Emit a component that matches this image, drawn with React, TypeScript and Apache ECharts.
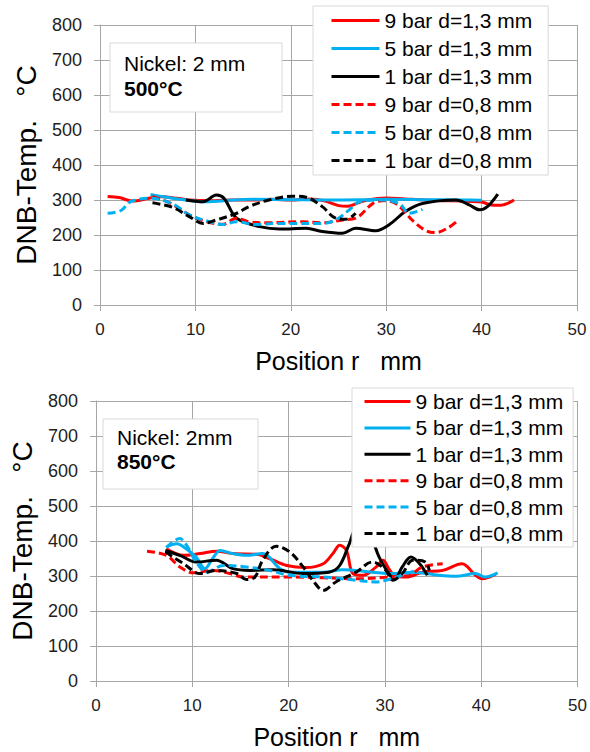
import React, { useEffect, useRef } from "react";
import * as echarts from "echarts";

// ---- data (x = position r in mm, y = DNB temperature in °C) ----
const seriesNames = [
  "9 bar d=1,3 mm",
  "5 bar d=1,3 mm",
  "1 bar d=1,3 mm",
  "9 bar d=0,8 mm",
  "5 bar d=0,8 mm",
  "1 bar d=0,8 mm",
];
const xTicks = [0, 10, 20, 30, 40, 50];
const yTicks = [0, 100, 200, 300, 400, 500, 600, 700, 800];

// 500°C
const t500_9bar_13 = [[0.8,310],[2,307],[3.4,297],[5,304],[6,310],[8,305],[10,299],[12,298],[14,300],[16,300],[18,302],[20,300],[22,303],[23.5,298],[25,284],[26,282],[27,291],[28,300],[30,306],[32,303],[34,300],[36,298],[38,297],[40,294],[41,286],[42,285],[43.4,300]];
const t500_5bar_13 = [[5.3,316],[7,308],[9,300],[10.8,295],[13,298],[16,302],[20,301],[24,300],[28,301],[30,302],[34,301],[38,300],[40,299]];
const t500_1bar_13 = [[9,300],[10.8,295],[12.2,314],[13,305],[13.9,262],[14.6,243],[16.7,224],[18.8,217],[21.6,219],[23.3,210],[25.4,205],[26.8,219],[28.9,212],[30.3,229],[32,267],[33.8,290],[37.3,300],[38.7,286],[39.8,272],[40.6,281],[41.7,317]];
const t500_9bar_08 = [[5.5,310],[7.3,292],[9.4,257],[11.1,238],[12.9,231],[14.3,248],[15.6,238],[17.7,235],[21.2,238],[23.3,235],[25.4,243],[26.8,248],[28.6,290],[29.6,298],[31,290],[32.9,238],[34.2,212],[35.2,207],[36.4,219],[37.5,241]];
const t500_5bar_08 = [[0.8,262],[2.2,270],[3.2,295],[5.2,305],[7.6,289],[9.4,257],[11.5,238],[12.9,230],[14.3,238],[16.3,230],[18.4,233],[23.3,233],[24.7,243],[26.1,271],[27.2,295],[29.6,300],[31.4,289],[32.4,262],[33.8,273]];
const t500_1bar_08 = [[5.5,292],[7.6,279],[9.4,252],[10.8,233],[12.2,243],[14.3,262],[15.6,281],[17.7,300],[20.2,311],[21.6,308],[23.3,281],[24.7,248],[25.8,245],[26.8,262]];

// 850°C
const t850_9bar_13 = [[7.3,378],[9.1,359],[10.8,364],[12.5,371],[14.2,364],[16.7,362],[18,350],[19.8,330],[21.8,324],[23.6,335],[24.6,364],[25.3,388],[26,373],[26.7,306],[27.7,302],[29.1,326],[29.8,345],[30.4,321],[31.1,299],[32.2,297],[33.9,311],[36,316],[38,335],[39.4,302],[40.1,292],[41.5,305]];
const t850_5bar_13 = [[7.3,383],[8.4,392],[9.1,383],[10.4,354],[11.3,321],[12.2,354],[12.9,373],[14.2,364],[15.6,359],[17.3,364],[19.1,321],[20.1,311],[23.6,311],[25.6,318],[28.7,311],[31.1,307],[32.9,311],[35.6,302],[37.4,299],[39.4,307],[40.4,297],[41.7,309]];
const t850_1bar_13 = [[7.2,373],[8.7,359],[10.4,340],[12.5,345],[14.2,321],[16,316],[18.4,318],[21.5,307],[24.2,311],[25.3,330],[26.3,392],[27,430],[28.4,416],[29.4,354],[30.4,307],[31,292],[31.8,326],[32.7,354],[33.6,335],[34.4,302]];
const t850_9bar_08 = [[5.3,371],[7.3,359],[8.7,326],[10.1,309],[12.2,316],[13.9,307],[15.3,297],[20.1,297],[23.6,295],[27,292],[30.4,297],[32.5,302],[33.9,326],[36,335]];
const t850_5bar_08 = [[7.3,381],[8.7,407],[9.4,388],[10.4,340],[11.5,311],[13.2,330],[15.6,326],[18,316],[20.1,302],[23.6,297],[27,288],[29.1,283],[30.1,288],[31.8,302],[33.2,316]];
const t850_1bar_08 = [[7.2,369],[9.1,335],[10.8,307],[12.5,316],[14.6,307],[15.6,290],[16.5,297],[17.3,345],[18.7,385],[20.1,369],[21.5,326],[22.5,288],[23.6,259],[24.9,283],[27,311],[28.7,340],[30.1,316],[30.8,288],[31.8,307],[32.9,345],[34.2,340],[34.6,316]];

const colors = ["#ff0000", "#00b0f0", "#000000", "#ff0000", "#00b0f0", "#000000"];
const panels = [
  { data: [t500_9bar_13, t500_5bar_13, t500_1bar_13, t500_9bar_08, t500_5bar_08, t500_1bar_08], line1: "Nickel: 2 mm", line2: "500°C" },
  { data: [t850_9bar_13, t850_5bar_13, t850_1bar_13, t850_9bar_08, t850_5bar_08, t850_1bar_08], line1: "Nickel: 2mm", line2: "850°C" },
];

const FONT = "'Liberation Sans', Arial, sans-serif";
const GRID_COLOR = "#a6a6a6";
const TEXT_COLOR = "#1e1e1e";

export default function App() {
  const ref = useRef<HTMLDivElement>(null);
  useEffect(() => {
    if (!ref.current) return;
    const chart = echarts.init(ref.current, undefined, { renderer: "svg" });
    const grids = [
      { left: 100, top: 25, width: 477, height: 280 },
      { left: 95, top: 401, width: 483, height: 280 },
    ];
    const xAxes = grids.map((_, i) => ({
      type: "value",
      gridIndex: i,
      min: xTicks[0],
      max: xTicks[xTicks.length - 1],
      interval: 10,
      name: "Position r   mm",
      nameLocation: "middle",
      nameGap: 43,
      nameTextStyle: { fontSize: 25, fontFamily: FONT, color: "#000" },
      axisLine: { show: true, lineStyle: { color: GRID_COLOR, width: 1 } },
      axisTick: { show: true, inside: false, length: 6, lineStyle: { color: GRID_COLOR } },
      axisLabel: { fontSize: 17, fontFamily: FONT, color: TEXT_COLOR, margin: 16 },
      splitLine: { show: true, lineStyle: { color: GRID_COLOR, width: 1 } },
    }));
    const yAxes = grids.map((_, i) => ({
      type: "value",
      gridIndex: i,
      min: yTicks[0],
      max: yTicks[yTicks.length - 1],
      interval: 100,
      name: "DNB-Temp.   °C",
      nameLocation: "middle",
      nameGap: 60,
      nameTextStyle: { fontSize: 28, fontFamily: FONT, color: "#000" },
      axisLine: { show: true, lineStyle: { color: GRID_COLOR, width: 1 } },
      axisTick: { show: true, inside: false, length: 6, lineStyle: { color: GRID_COLOR } },
      axisLabel: { fontSize: 18, fontFamily: FONT, color: TEXT_COLOR, margin: 18 },
      splitLine: { show: true, lineStyle: { color: GRID_COLOR, width: 1 } },
    }));
    const series: any[] = [];
    panels.forEach((p, gi) => {
      p.data.forEach((d, si) => {
        series.push({
          type: "line",
          name: seriesNames[si],
          xAxisIndex: gi,
          yAxisIndex: gi,
          data: d,
          smooth: 0.35,
          symbol: "none",
          showSymbol: false,
          z: 3,
          lineStyle: { color: colors[si], width: 3, type: si >= 3 ? [8, 4] : "solid" },
          itemStyle: { color: colors[si] },
        });
      });
    });
    const legendCommon = {
      orient: "vertical",
      data: seriesNames,
      itemWidth: 48,
      itemHeight: 14,
      backgroundColor: "#ffffff",
      borderColor: "#d9d9d9",
      borderWidth: 1,
      borderRadius: 0,
      z: 20,
      selectedMode: false,
      itemStyle: { opacity: 0, borderWidth: 0 },
      lineStyle: { width: 3 },
      textStyle: { fontSize: 21, fontFamily: FONT, color: "#000", lineHeight: 21 },
    };
    const legends = [
      { ...legendCommon, left: 313, top: 6, itemGap: 7, padding: [4, 16, 4, 17] },
      { ...legendCommon, left: 352, top: 388, itemGap: 5.4, padding: [3, 10, 3, 11], itemWidth: 46 },
    ];
    const boxes = [
      { x: 110, y: 43, w: 172, h: 69, tx: 124, ty1: 63, ty2: 88 },
      { x: 103, y: 419, w: 155, h: 70, tx: 117, ty1: 437, ty2: 461 },
    ];
    const graphic: any[] = [];
    boxes.forEach((b, i) => {
      graphic.push({
        type: "rect",
        shape: { x: b.x, y: b.y, width: b.w, height: b.h },
        style: { fill: "#ffffff", stroke: "#d9d9d9", lineWidth: 1 },
        z: 50,
      });
      graphic.push({
        type: "text",
        x: b.tx,
        y: b.ty1,
        style: { text: panels[i].line1, font: `21px ${FONT}`, fill: "#000", textVerticalAlign: "middle", verticalAlign: "middle" },
        z: 51,
      });
      graphic.push({
        type: "text",
        x: b.tx,
        y: b.ty2,
        style: { text: panels[i].line2, font: `bold 21px ${FONT}`, fill: "#000", textVerticalAlign: "middle", verticalAlign: "middle" },
        z: 51,
      });
    });
    chart.setOption({
      animation: false,
      backgroundColor: "#ffffff",
      grid: grids,
      xAxis: xAxes,
      yAxis: yAxes,
      legend: legends,
      series,
      graphic,
    } as any);
    return () => chart.dispose();
  }, []);
  return (
    <div
      ref={ref}
      style={{ position: "absolute", left: 0, top: 0, width: 590, height: 752, background: "#fff" }}
    />
  );
}
